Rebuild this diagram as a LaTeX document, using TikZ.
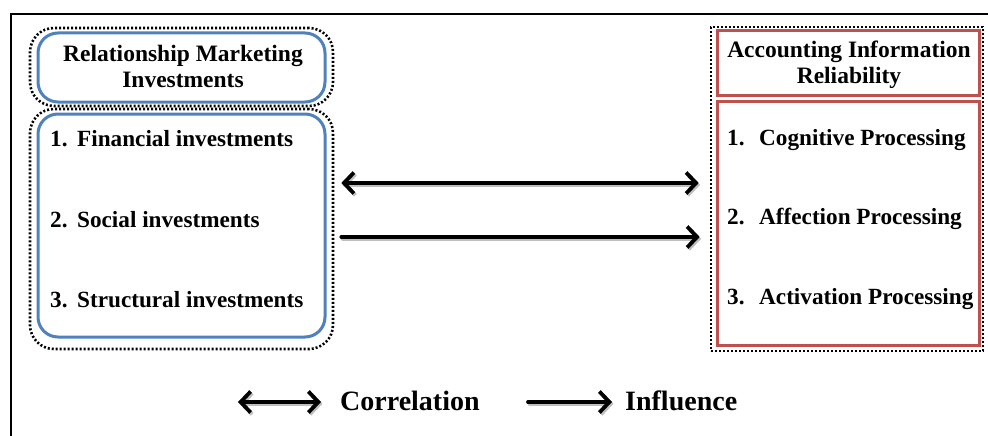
\documentclass[tikz,border=0pt]{standalone}
\usepackage{fontspec}
\setmainfont{Liberation Serif}
\usetikzlibrary{arrows.meta}
\definecolor{bluebox}{RGB}{79,129,189}
\definecolor{redbox}{RGB}{192,80,77}
\tikzset{
  dotbox/.style={draw=black, line width=2.6pt, dash pattern=on 2pt off 2pt, inner sep=0pt},
  bluefr/.style={draw=bluebox, line width=3pt, rounded corners=20pt, inner sep=0pt},
  redfr/.style={draw=redbox, line width=3pt, inner sep=0pt},
  headtxt/.style={font=\bfseries\fontsize{23.5}{26}\selectfont, align=center, inner sep=0pt},
  itemtxt/.style={font=\bfseries\fontsize{23.2}{26}\selectfont, anchor=west, inner sep=0pt},
  legtxt/.style={font=\bfseries\fontsize{28}{32}\selectfont, anchor=west, inner sep=0pt},
  tip/.style={line width=3.8pt, line cap=round, line join=round},
  corr/.style={tip, {Straight Barb[length=10pt,width=21pt,line width=3.8pt]}-{Straight Barb[length=10pt,width=21pt,line width=3.8pt]}},
  infl/.style={tip, -{Straight Barb[length=10pt,width=21pt,line width=3.8pt]}},
  shad/.style={draw=black!25, transform canvas={shift={(1.5pt,-1.8pt)}}}
}
\begin{document}
\begin{tikzpicture}[x=1pt,y=-1pt]
\useasboundingbox (0,0) rectangle (988,436);
% outer frame
\coordinate (fbl) at (11,437);
\coordinate (ftl) at (11,14);
\coordinate (ftr) at (989,14);
\draw[line width=2pt] (fbl) -- (ftl) -- (ftr);

% left group
\node[dotbox, rounded corners=24pt, minimum width=303pt, minimum height=78pt] (ldh) at (181.5,67) {};
\node[dotbox, rounded corners=24pt, minimum width=303pt, minimum height=240pt] (ldl) at (181.5,229) {};
\node[bluefr, minimum width=287pt, minimum height=69pt] (lh) at (181.5,67.5) {};
\node[bluefr, minimum width=287pt, minimum height=223pt] (ll) at (181.5,225.5) {};
\node[headtxt] (lht) at (183,66) {Relationship Marketing\\Investments};
\node[itemtxt] (l1) at (50,139) {\makebox[27pt][l]{1.}Financial investments};
\node[itemtxt] (l2) at (50,220) {\makebox[27pt][l]{2.}Social investments};
\node[itemtxt] (l3) at (50,300) {\makebox[27pt][l]{3.}Structural investments};

% right group
\node[dotbox, minimum width=272pt, minimum height=324pt] (rd) at (847,189) {};
\node[redfr, minimum width=262pt, minimum height=64pt] (rh) at (848,63) {};
\node[redfr, minimum width=262pt, minimum height=244pt] (rl) at (848,223) {};
\node[headtxt] (rht) at (849,65) {Accounting Information\\Reliability};
\node[itemtxt] (r1) at (727,140) {\makebox[32pt][l]{1.}Cognitive Processing};
\node[itemtxt] (r2) at (727,219) {\makebox[32pt][l]{2.}Affection Processing};
\node[itemtxt] (r3) at (727,299) {\makebox[32pt][l]{3.}Activation Processing};

% connectors
\coordinate (c1a) at ([xshift=7pt]ldl.east |- 0,183);
\coordinate (c1b) at ([xshift=-11pt]rd.west |- 0,183);
\coordinate (c2a) at ([xshift=7pt]ldl.east |- 0,237);
\coordinate (c2b) at ([xshift=-10pt]rd.west |- 0,237);
\draw[corr, shad] (c1a) -- (c1b);
\draw[corr] (c1a) -- (c1b);
\draw[infl, shad] (c2a) -- (c2b);
\draw[infl] (c2a) -- (c2b);

% legend
\coordinate (g1a) at (238,402);
\coordinate (g1b) at (321,402);
\coordinate (g2a) at (528,402);
\coordinate (g2b) at (612,402);
\draw[corr, shad] (g1a) -- (g1b);
\draw[corr] (g1a) -- (g1b);
\node[legtxt] (gc) at (340,401) {Correlation};
\draw[infl, shad] (g2a) -- (g2b);
\draw[infl] (g2a) -- (g2b);
\node[legtxt] (gi) at (625,401) {Influence};
\end{tikzpicture}
\end{document}
